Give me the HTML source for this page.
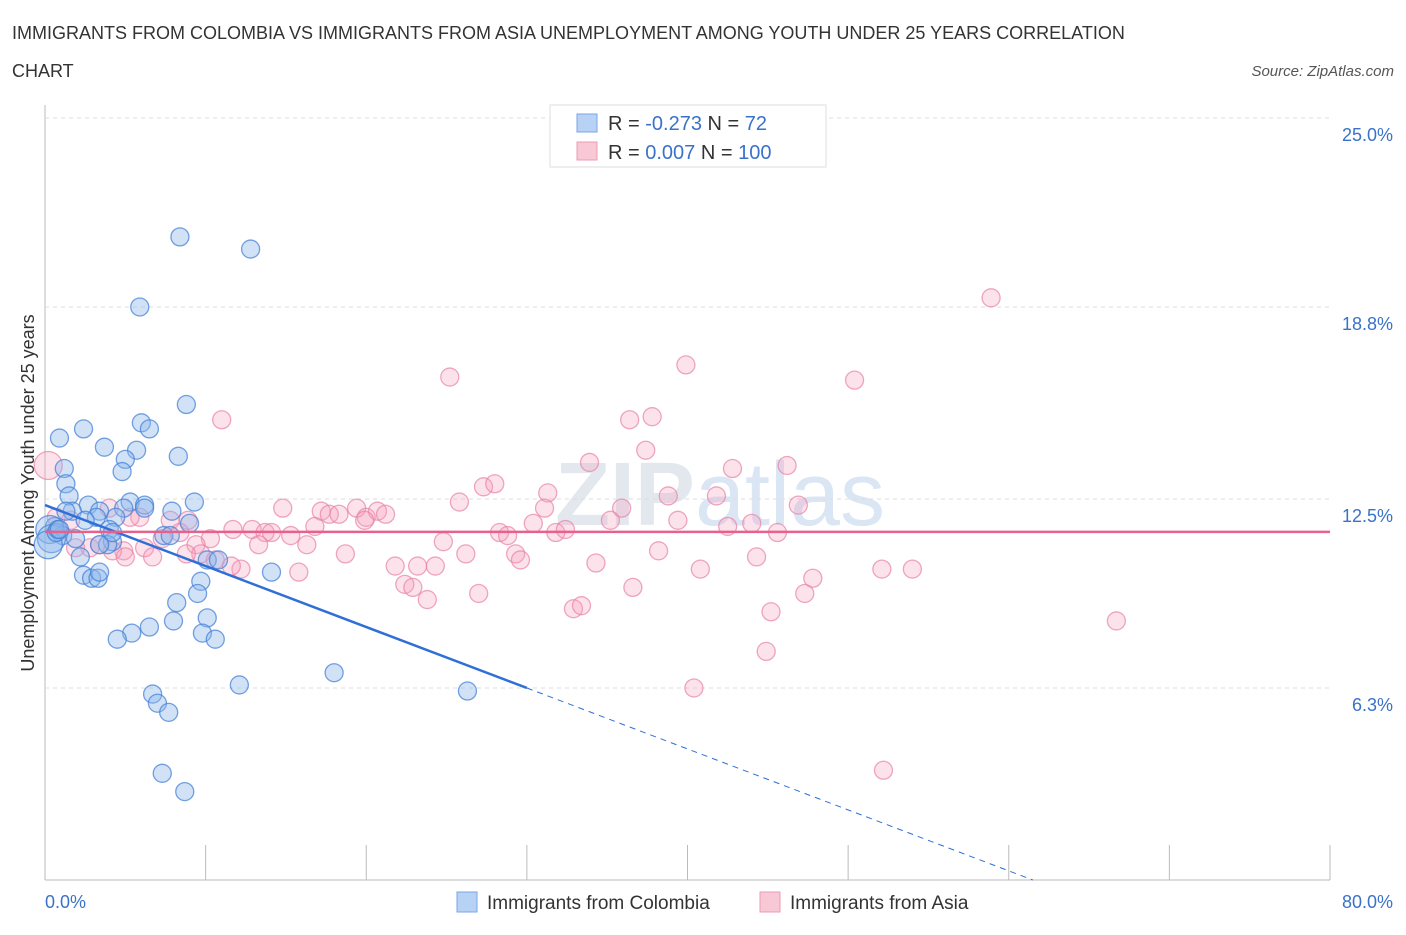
<!DOCTYPE html>
<html><head><meta charset="utf-8"><style>
body{margin:0;background:#fff;font-family:"Liberation Sans",sans-serif}
</style></head><body>
<svg id="c" width="1406" height="930" xmlns="http://www.w3.org/2000/svg" font-family="Liberation Sans, sans-serif">
<text x="12" y="39" font-size="18" fill="#333">IMMIGRANTS FROM COLOMBIA VS IMMIGRANTS FROM ASIA UNEMPLOYMENT AMONG YOUTH UNDER 25 YEARS CORRELATION</text>
<text x="12" y="77" font-size="18" fill="#333">CHART</text>
<text x="1394" y="76" font-size="15" fill="#555" text-anchor="end" font-style="italic">Source: ZipAtlas.com</text>
<text x="720" y="525" font-size="90" fill="#e3e8ef" text-anchor="middle" font-weight="bold">ZIP<tspan fill="#dbe6f5" font-weight="normal">atlas</tspan></text>
<g id="grid"></g><g id="pts"></g><g id="lines"></g>
<text transform="translate(34,493) rotate(-90)" font-size="18" fill="#333" text-anchor="middle">Unemployment Among Youth under 25 years</text>
<text x="45" y="908" font-size="18" fill="#3a72c9">0.0%</text>
<text x="1393" y="908" font-size="18" fill="#3a72c9" text-anchor="end">80.0%</text>
<g>
<rect x="550" y="105" width="276" height="62" fill="#fff" stroke="#ddd"/>
<rect x="577" y="114" width="20" height="18" fill="#b8d2f5" stroke="#7aa6e6"/>
<rect x="577" y="142" width="20" height="18" fill="#f9c8d6" stroke="#ec9cb6"/>
<text x="608" y="130" font-size="20" fill="#333">R = <tspan fill="#3a72c9">-0.273</tspan>   N = <tspan fill="#3a72c9">  72</tspan></text>
<text x="608" y="159" font-size="20" fill="#333">R = <tspan fill="#3a72c9"> 0.007</tspan>   N = <tspan fill="#3a72c9">100</tspan></text>
</g>
<g>
<rect x="457" y="892" width="20" height="20" fill="#b8d2f5" stroke="#7aa6e6"/>
<text x="487" y="909" font-size="19" fill="#333">Immigrants from Colombia</text>
<rect x="760" y="892" width="20" height="20" fill="#f9c8d6" stroke="#ec9cb6"/>
<text x="790" y="909" font-size="19" fill="#333">Immigrants from Asia</text>
</g>
</svg>
<script>
const yTicks=[25.0,18.8,12.5,6.3];
const yTickLabels=["25.0%","18.8%","12.5%","6.3%"];
const xTicks=[0,10,20,30,40,50,60,70,80];
const blueX=[8.4,12.8,5.9,8.8,6.0,6.5,0.9,2.4,8.3,3.7,5.7,5.0,1.2,4.8,1.3,1.5,9.3,2.7,5.3,6.2,4.9,6.2,1.7,3.4,7.9,3.2,4.4,2.5,9.0,0.6,0.3,4.0,7.4,7.8,1.1,1.9,4.2,3.9,0.4,0.2,2.2,10.1,10.8,2.4,2.9,3.3,3.4,14.1,9.7,9.5,8.2,10.1,8.0,6.5,5.4,4.5,9.8,10.6,12.1,18.0,26.3,6.7,7.0,7.7,7.3,8.7,0.7,0.8,3.4,1.3,4.2,0.9];
const blueY=[21.1,20.7,18.8,15.6,15.0,14.8,14.5,14.8,13.9,14.2,14.1,13.8,13.5,13.4,13.0,12.6,12.4,12.3,12.4,12.3,12.2,12.2,12.1,12.1,12.1,11.9,11.9,11.8,11.7,11.6,11.5,11.5,11.3,11.3,11.3,11.2,11.1,11.0,11.2,11.0,10.6,10.5,10.5,10.0,9.9,9.9,10.1,10.1,9.8,9.4,9.1,8.6,8.5,8.3,8.1,7.9,8.1,7.9,6.4,6.8,6.2,6.1,5.8,5.5,3.5,2.9,11.4,11.5,11.0,12.1,11.4,11.5];
const pinkX=[58.9,39.9,25.2,50.4,11.0,36.4,37.8,37.4,33.9,42.8,46.2,27.3,28.0,31.3,38.8,41.8,25.8,35.9,46.9,14.8,31.1,17.2,17.7,18.3,19.4,20.0,20.7,21.2,19.9,35.2,39.4,42.5,44.0,8.9,7.8,5.9,5.3,4.0,28.3,28.8,30.4,31.8,32.4,45.6,11.7,12.9,13.7,14.1,15.3,16.8,10.3,8.4,9.4,7.3,6.2,4.9,4.2,2.8,1.9,3.4,1.6,0.7,0.2,13.3,16.3,24.8,18.7,26.2,29.3,29.6,34.3,38.2,44.3,9.7,10.6,8.8,6.7,12.2,15.8,21.8,23.2,24.3,40.8,52.1,54.0,47.8,22.4,22.9,23.8,27.0,36.6,47.3,32.9,33.4,45.2,66.7,44.9,40.4,52.2,11.6,5.0];
const pinkY=[19.1,16.9,16.5,16.4,15.1,15.1,15.2,14.1,13.7,13.5,13.6,12.9,13.0,12.7,12.6,12.6,12.4,12.2,12.3,12.2,12.2,12.1,12.0,12.0,12.2,11.9,12.1,12.0,11.8,11.8,11.8,11.6,11.7,11.8,11.8,11.9,11.9,12.2,11.4,11.3,11.7,11.4,11.5,11.4,11.5,11.5,11.4,11.4,11.3,11.6,11.2,11.4,11.0,11.2,10.9,10.8,10.8,10.9,10.9,11.0,11.8,11.9,13.6,11.0,11.0,11.1,10.7,10.7,10.7,10.5,10.4,10.8,10.6,10.7,10.5,10.7,10.6,10.2,10.1,10.3,10.3,10.3,10.2,10.2,10.2,9.9,9.7,9.6,9.2,9.4,9.6,9.4,8.9,9.0,8.8,8.5,7.5,6.3,3.6,10.3,10.6];
const blueTrend=[12.3,-0.2]; // intercept, slope
const pinkTrend=[11.42,0.0];
const NS="http://www.w3.org/2000/svg";
const X0=45,X1=1330,Y0=880,Y1=118;
const sx=v=>X0+(v/80)*(X1-X0);
const sy=v=>Y0-(v/25)*(Y0-Y1);
function mk(tag,attrs,parent){const e=document.createElementNS(NS,tag);for(const k in attrs)e.setAttribute(k,attrs[k]);document.getElementById(parent).appendChild(e);return e;}
let e=mk('line',{x1:X0,y1:105,x2:X0,y2:Y0,stroke:'#bbb'},'grid');


e=mk('line',{x1:X0,y1:Y0,x2:X1,y2:Y0,stroke:'#bbb'},'grid');


yTicks.forEach((t,i)=>{
 let g=mk('line',{x1:X0,y1:sy(t),x2:X1,y2:sy(t),stroke:'#ddd','stroke-dasharray':'4,4'},'grid');
 
 
 let l=mk('text',{x:1393,y:sy(t)+23,'font-size':18,fill:'#3a72c9','text-anchor':'end'},'grid');
 l.textContent=yTickLabels[i];
 
 
});
xTicks.forEach(t=>{
 let g=mk('line',{x1:sx(t),y1:Y0-35,x2:sx(t),y2:Y0,stroke:'#bbb'},'grid');
 
 
});
function pts(xs,ys,fill,stroke,name){xs.forEach((x,i)=>{
 const r=(x<0.5)?14:9;
 let c=mk('circle',{cx:sx(x),cy:sy(ys[i]),r:r,fill:fill,stroke:stroke,'stroke-width':1.3},'pts');
 
 
});}
pts(pinkX,pinkY,'rgba(244,160,188,0.3)','rgba(232,130,165,0.7)','asia-point');
pts(blueX,blueY,'rgba(140,182,236,0.4)','rgba(70,130,215,0.75)','colombia-point');
const bEnd=30, bZero=-blueTrend[0]/blueTrend[1];
e=mk('line',{x1:sx(0),y1:sy(blueTrend[0]),x2:sx(bEnd),y2:sy(blueTrend[0]+blueTrend[1]*bEnd),stroke:'#2f6fd6','stroke-width':2.5},'lines');


e=mk('line',{x1:sx(bEnd),y1:sy(blueTrend[0]+blueTrend[1]*bEnd),x2:sx(bZero),y2:sy(0),stroke:'#2f6fd6','stroke-width':1,'stroke-dasharray':'6,5'},'lines');


e=mk('line',{x1:sx(0),y1:sy(pinkTrend[0]),x2:sx(80),y2:sy(pinkTrend[0]+pinkTrend[1]*80),stroke:'#e8608c','stroke-width':2.5},'lines');


</script>
</body></html>
